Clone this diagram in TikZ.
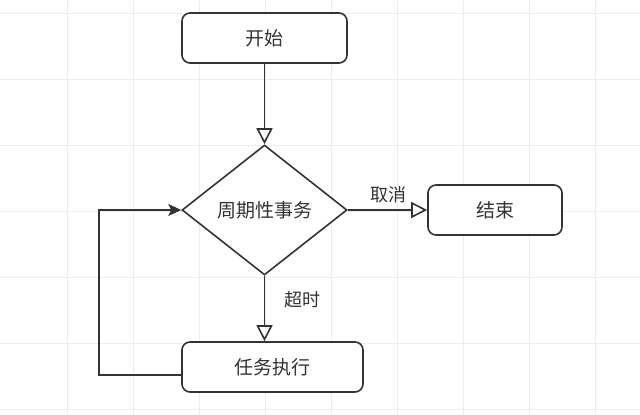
\documentclass[tikz,border=0pt]{standalone}
\usepackage{fontspec}
\setmainfont{Noto Sans CJK SC}
\usetikzlibrary{shapes.geometric,arrows.meta}
\definecolor{ink}{HTML}{333333}
\definecolor{gridc}{HTML}{EDEDED}
\begin{document}
\begin{tikzpicture}[x=1pt,y=-1pt,
  box/.style={draw=ink,line width=1.6pt,rounded corners=8pt,fill=white,text=ink,
    font=\fontsize{19}{22}\selectfont,inner sep=0pt,minimum height=50pt},
  dia/.style={draw=ink,line width=1.6pt,diamond,fill=white,text=ink,
    font=\fontsize{19}{22}\selectfont,inner sep=0pt,minimum width=165pt,minimum height=130pt},
  conn/.style={draw=ink,line width=1.6pt,-{Triangle[open,length=16pt,width=16pt]}},
  loopconn/.style={draw=ink,line width=1.6pt,-{Stealth[length=13pt,width=12pt,inset=3pt]}},
  lbl/.style={text=ink,font=\fontsize{18}{21}\selectfont,inner sep=0pt}]
\useasboundingbox (0,0) rectangle (640,415);
\fill[white] (0,0) rectangle (640,415);
\foreach \gx in {67,133,199,265,331,397,463,529,595}
  \draw[gridc,line width=0.8pt] (\gx,0) -- (\gx,415);
\foreach \gy in {13,79,145,211,277,343,409}
  \draw[gridc,line width=0.8pt] (0,\gy) -- (640,\gy);

\node[box,minimum width=165pt] (start) at (264.5,38) {开始};
\node[dia] (cyc) at (264.5,210) {周期性事务};
\node[box,minimum width=134pt] (stop) at (495,210) {结束};
\node[box,minimum width=181pt] (task) at (272.5,367) {任务执行};

\coordinate (la) at (99,375);
\coordinate (lb) at (99,210);

\draw[conn] (start.south) -- (cyc.north);
\draw[conn] (cyc.east) -- (stop.west);
\draw[conn] (cyc.south) -- (cyc.south |- task.north);
\draw[loopconn] (task.west |- la) -- (la) -- (lb) -- (cyc.west);

\node[lbl] (lcancel) at (388,195) {取消};
\node[lbl] (ltime) at (302,300) {超时};
\end{tikzpicture}
\end{document}
